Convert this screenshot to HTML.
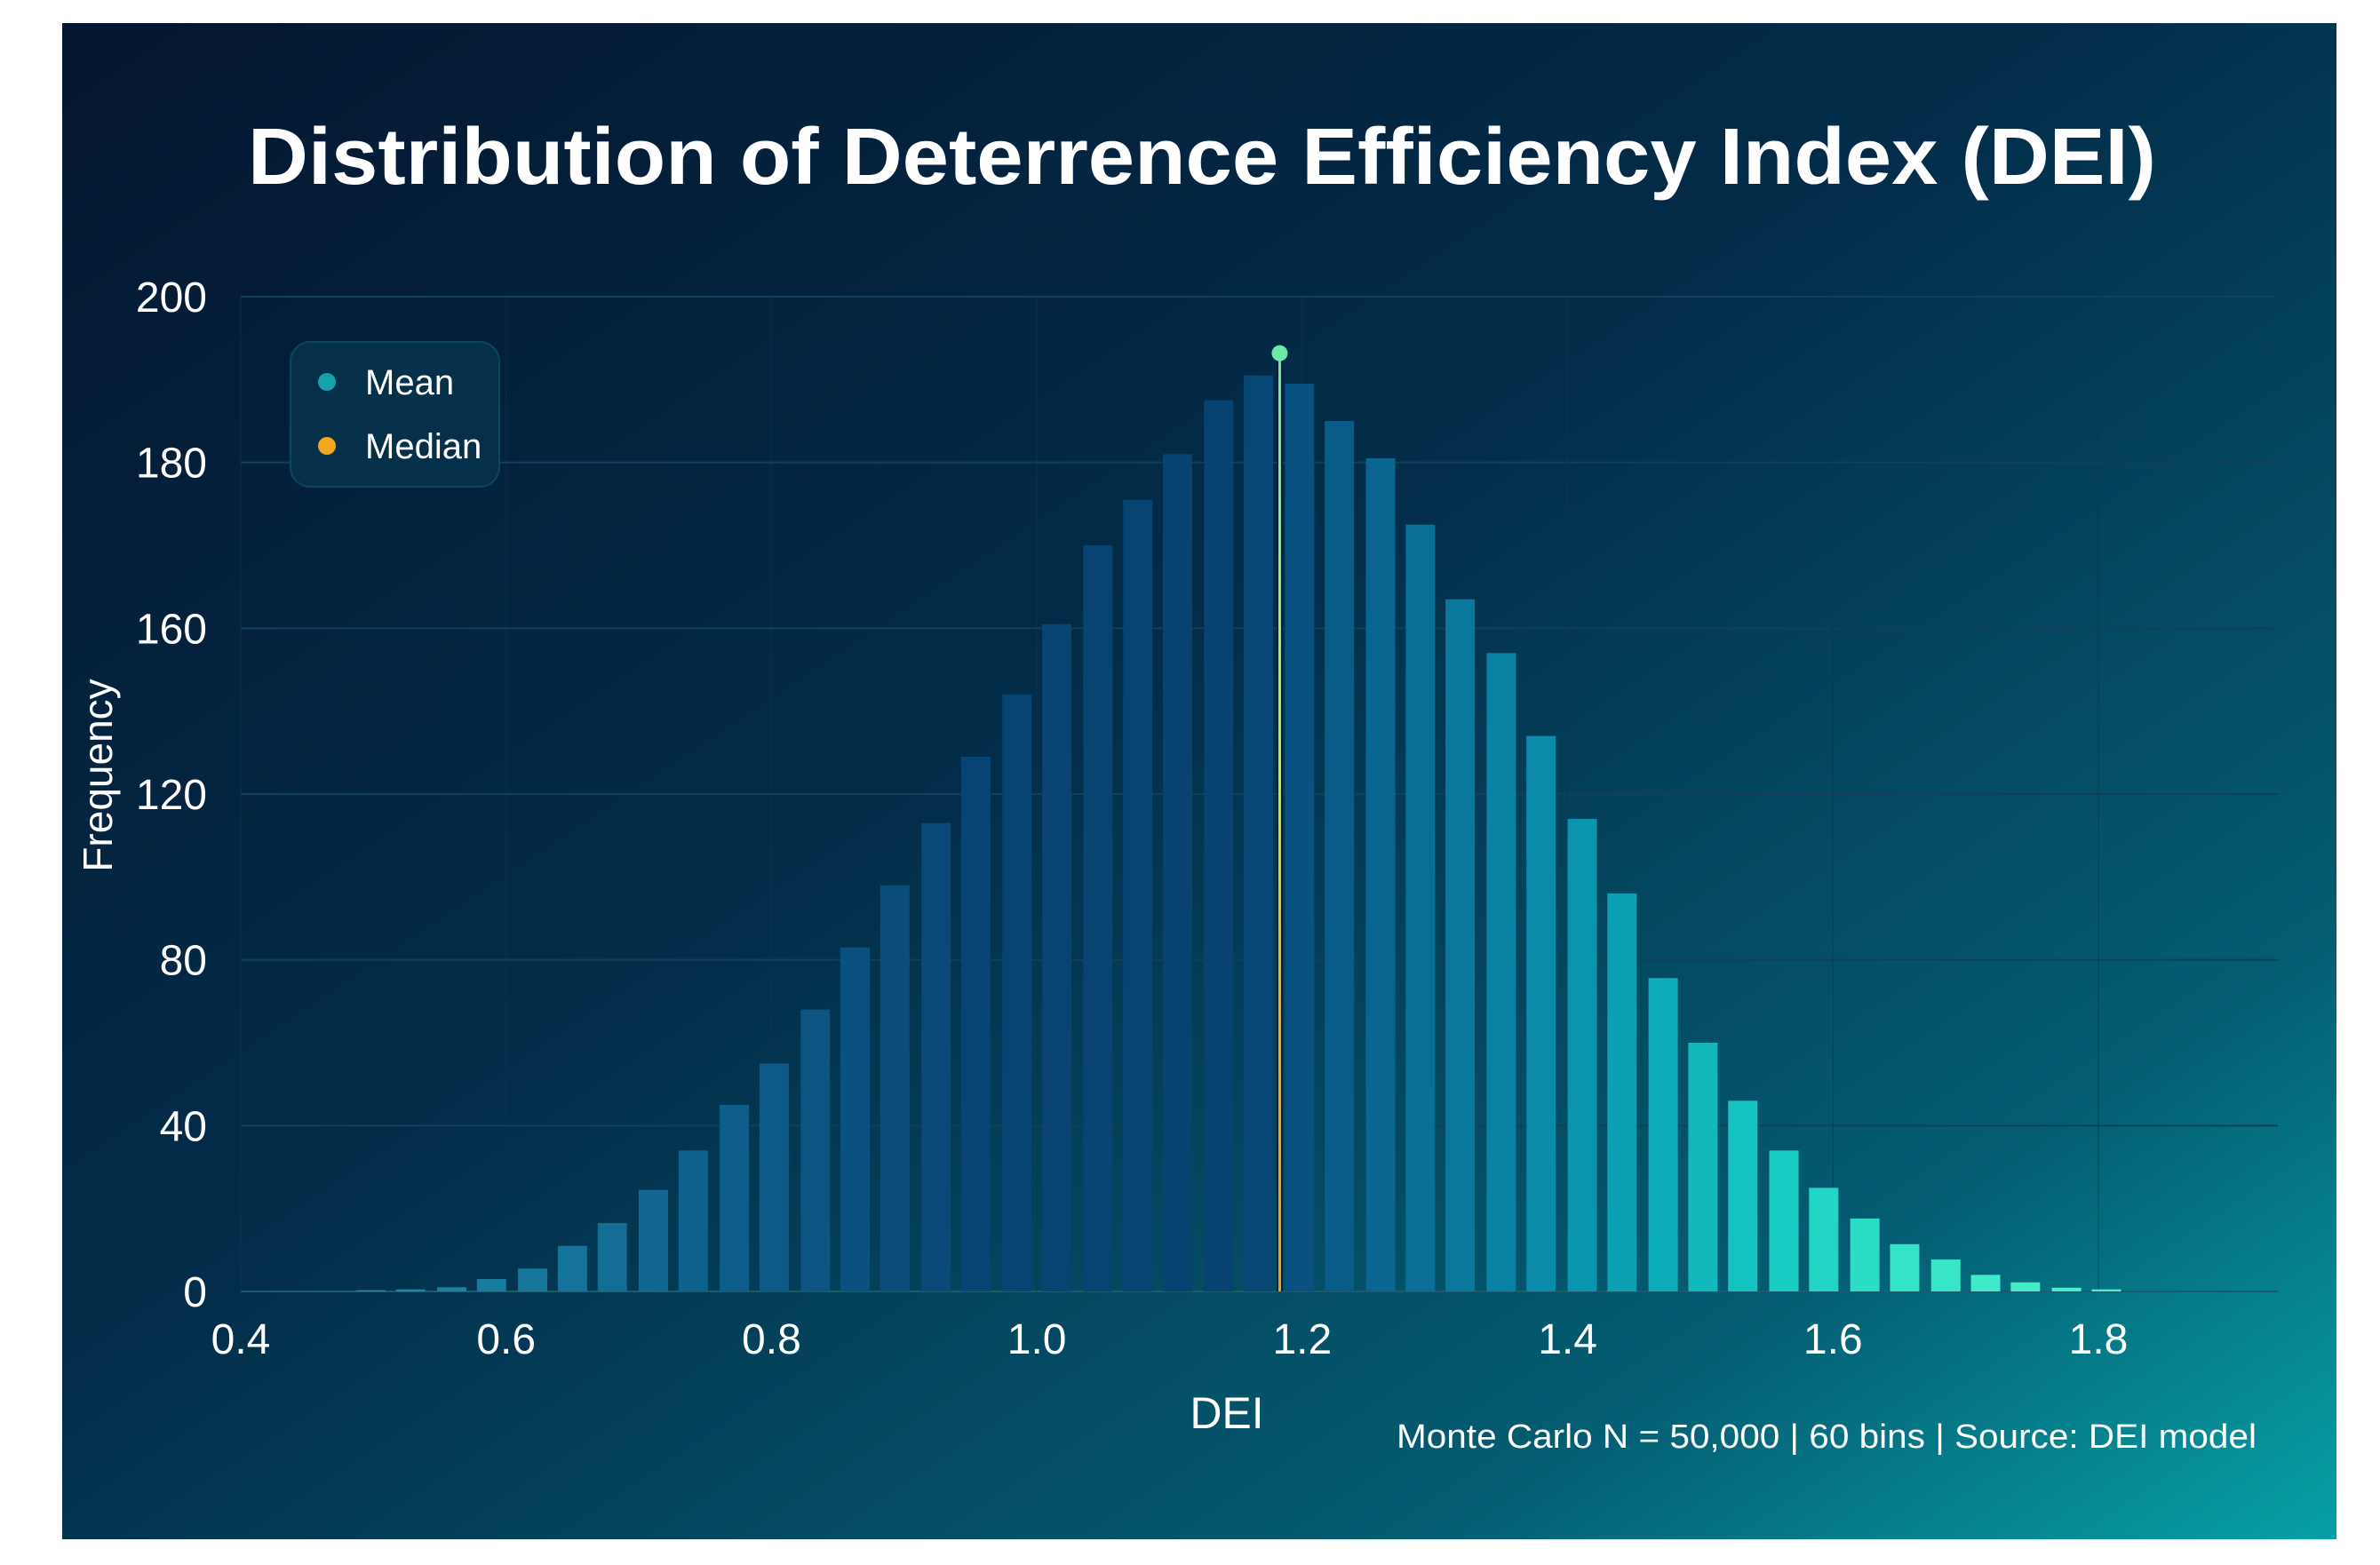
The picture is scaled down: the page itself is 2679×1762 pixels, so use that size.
<!DOCTYPE html>
<html><head><meta charset="utf-8"><style>
html,body{margin:0;padding:0;background:#fff;}
svg{display:block;}
text{font-family:"Liberation Sans",sans-serif;fill:#fff;}
</style></head><body>
<svg id="chart" width="2679" height="1762" viewBox="0 0 2679 1762" xmlns="http://www.w3.org/2000/svg">
<defs>
<linearGradient id="bg" x1="0" y1="0" x2="1" y2="1">
<stop offset="0" stop-color="#04162f"/>
<stop offset="0.45" stop-color="#032d4a"/>
<stop offset="0.8" stop-color="#045d72"/>
<stop offset="1" stop-color="#07a0a6"/>
</linearGradient>
<linearGradient id="mline" x1="0" y1="0" x2="0" y2="1">
<stop offset="0" stop-color="#6ee8a8"/>
<stop offset="0.45" stop-color="#c8e848"/>
<stop offset="0.7" stop-color="#f0b020"/>
<stop offset="1" stop-color="#f0a020"/>
</linearGradient>
</defs>
<rect x="70" y="26" width="2560" height="1707" fill="url(#bg)"/>
<text x="279" y="207" font-size="90" font-weight="bold" textLength="2148" lengthAdjust="spacingAndGlyphs">Distribution of Deterrence Efficiency Index (DEI)</text>
<g id="grid"></g>
<g id="bars"></g>
<g id="axes"></g>
<g id="marker"></g>
<text transform="translate(126,873) rotate(-90)" font-size="46" text-anchor="middle">Frequency</text>
<text x="1381" y="1608" font-size="50" text-anchor="middle">DEI</text>
<text x="2540" y="1630" font-size="38" text-anchor="end" textLength="968" lengthAdjust="spacingAndGlyphs">Monte Carlo N = 50,000 | 60 bins | Source: DEI model</text>
<g>
<rect x="327" y="385" width="235" height="163" rx="22" fill="#06304a" stroke="#0d4460" stroke-width="2"/>
<circle cx="368" cy="430" r="10" fill="#13a3a8"/>
<text x="411" y="444" font-size="40">Mean</text>
<circle cx="368" cy="502" r="10" fill="#f2a81d"/>
<text x="411" y="516" font-size="40">Median</text>
</g>
</svg>
<script>
const binCenters = [0.498,0.528,0.559,0.589,0.620,0.650,0.680,0.711,0.741,0.772,0.802,0.833,0.863,0.893,0.924,0.954,0.985,1.015,1.046,1.076,1.106,1.137,1.167,1.198,1.228,1.259,1.289,1.319,1.350,1.380,1.411,1.441,1.472,1.502,1.532,1.563,1.593,1.624,1.654,1.685,1.715,1.745,1.776,1.806];
const frequencies = [0.3,0.5,1,3,5.5,11,16.5,24.5,34,45,55,68,83,98,113,129,144,161,180,191,202,215,221,219,210,201,185,167,154,134,114,96,75.6,60,46,34,25,17.6,11.4,7.7,4,2.2,0.9,0.5];
const yTickLabels = ["0","40","80","120","160","180","200"];
const xTickValues = [0.4,0.6,0.8,1.0,1.2,1.4,1.6,1.8];
const xTickLabels = ["0.4","0.6","0.8","1.0","1.2","1.4","1.6","1.8"];
const meanValue = 1.183;

const NS = "http://www.w3.org/2000/svg";
const X0 = 271, X1 = 2362, D0 = 0.4, D1 = 1.8;
const Y0 = 1454, YTOP = 334, YMAX = 240;
function xs(v){ return X0 + (v - D0) / (D1 - D0) * (X1 - X0); }
function ys(v){ return Y0 - v / YMAX * (Y0 - YTOP); }
function mk(tag, attrs, parent){ const e = document.createElementNS(NS, tag); for (const k in attrs) e.setAttribute(k, attrs[k]); parent.appendChild(e); return e; }

const grid = document.getElementById('grid');
const axes = document.getElementById('axes');
yTickLabels.forEach((lab, i) => {
  const v = i * YMAX / (yTickLabels.length - 1);
  const y = ys(v);
  const ln = mk('line', {x1: X0, x2: 2564, y1: y, y2: y, stroke: i === 0 ? '#1c5a70' : '#12405a', 'stroke-width': 2}, grid);
  
  
  const t = mk('text', {x: 233, y: y + 17, 'font-size': 48, 'text-anchor': 'end'}, axes);
  t.textContent = lab;
  
  
});
xTickValues.forEach((v, i) => {
  const x = xs(v);
  const ln = mk('line', {x1: x, x2: x, y1: YTOP, y2: Y0, stroke: '#0f3550', 'stroke-width': 1.2, 'stroke-opacity': 0.6}, grid);
  
  
  const t = mk('text', {x: x, y: 1524, 'font-size': 48, 'text-anchor': 'middle'}, axes);
  t.textContent = xTickLabels[i];
  
  
});

const stops = [[0,[30,140,168]],[0.2,[14,95,140]],[0.35,[8,68,115]],[0.5,[8,66,112]],[0.58,[10,100,145]],[0.7,[10,150,175]],[0.8,[20,200,195]],[0.88,[50,228,198]],[1,[80,240,205]]];
function col(t){
  for (let i = 1; i < stops.length; i++){
    if (t <= stops[i][0]){
      const a = stops[i-1], b = stops[i], f = (t - a[0]) / (b[0] - a[0]);
      const c = a[1].map((v, k) => Math.round(v + (b[1][k] - v) * f));
      return 'rgb(' + c.join(',') + ')';
    }
  }
  return 'rgb(80,240,205)';
}
const bars = document.getElementById('bars');
const bw = 33;
binCenters.forEach((c, i) => {
  const x = xs(c), y = ys(frequencies[i]);
  const fill = col(i / (binCenters.length - 1));
  const r = mk('rect', {x: x - bw/2, y: y, width: bw, height: Math.max(0, Y0 - y), fill: fill}, bars);
  
  
});

const marker = document.getElementById('marker');
const mx = xs(meanValue);
const topY = ys(Math.max(...frequencies)) - 25;
const o = mk('line', {x1: mx, x2: mx, y1: topY, y2: Y0, stroke: '#06203a', 'stroke-width': 7}, marker);


const ml = mk('rect', {x: mx - 1.5, y: topY, width: 3, height: Y0 - topY, fill: 'url(#mline)'}, marker);


const dot = mk('circle', {cx: mx, cy: topY, r: 9, fill: '#6ee8a8'}, marker);


</script>
</body></html>
